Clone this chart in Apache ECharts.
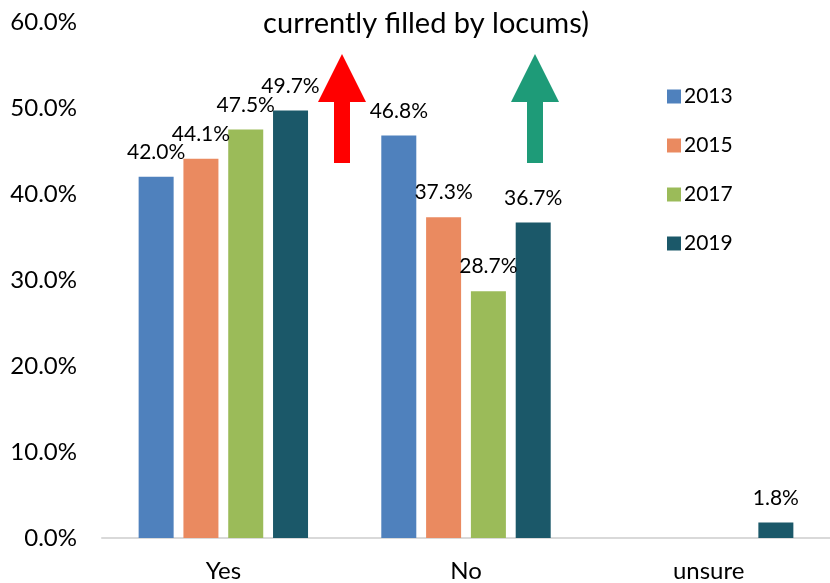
<!DOCTYPE html>
<html>
<head>
<meta charset="utf-8">
<script src="https://cdn.jsdelivr.net/npm/echarts@6/dist/echarts.min.js"></script>
<style>
  html, body { margin: 0; padding: 0; background: #fff; }
  #chart { width: 830px; height: 583px; }
</style>
</head>
<body>
<div id="chart"></div>
<script>
// answers to the question, one bar per survey year
var categories = ['Yes', 'No', 'unsure'];
var years = ['2013', '2015', '2017', '2019'];
var colors = ['#4F81BD', '#EA8A60', '#9BBB59', '#1B5869'];
var values2013 = [42.0, 46.8, null];
var values2015 = [44.1, 37.3, null];
var values2017 = [47.5, 28.7, null];
var values2019 = [49.7, 36.7, 1.8];
var yTicks = [0, 10, 20, 30, 40, 50, 60];

var font = 'Lato, "Open Sans", sans-serif';
var allValues = [values2013, values2015, values2017, values2019];

var chart = echarts.init(document.getElementById('chart'), null, { renderer: 'canvas' });

var series = years.map(function (y, i) {
  return {
    name: y,
    type: 'bar',
    data: allValues[i],
    barWidth: 35,
    barGap: '28%',
    itemStyle: { color: colors[i] },
    label: {
      show: true,
      position: 'top',
      distance: 14,
      fontFamily: font,
      fontSize: 21,
      color: '#000',
      formatter: function (p) { return p.value.toFixed(1) + '%'; }
    }
  };
});

// arrow shapes (annotations, not data)
function arrow(cx, color) {
  return {
    type: 'polygon',
    shape: {
      points: [
        [cx, 54], [cx + 24, 102], [cx + 8, 102], [cx + 8, 163],
        [cx - 8, 163], [cx - 8, 102], [cx - 24, 102]
      ]
    },
    style: { fill: color }
  };
}

var options = {
  animation: false,
  title: {
    text: 'currently filled by locums)',
    left: 421,
    textAlign: 'center',
    top: 4,
    textStyle: { fontFamily: font, fontSize: 29, fontWeight: 'normal', color: '#000' }
  },
  legend: {
    orient: 'vertical',
    left: 662,
    top: 81,
    itemWidth: 14,
    itemHeight: 14,
    itemGap: 28,
    icon: 'rect',
    data: years,
    textStyle: { fontFamily: font, fontSize: 21, color: '#000', padding: [0, 0, 0, -2] }
  },
  grid: { left: 102, right: -5, top: 22, bottom: 43, containLabel: false },
  xAxis: {
    type: 'category',
    data: categories,
    axisLine: { lineStyle: { color: '#D9D9D9', width: 2 } },
    axisTick: { show: false },
    axisLabel: { fontFamily: font, fontSize: 24, color: '#000', margin: 21 }
  },
  yAxis: {
    type: 'value',
    min: yTicks[0],
    max: yTicks[yTicks.length - 1],
    interval: 10,
    splitLine: { show: false },
    axisLine: { show: false },
    axisTick: { show: false },
    axisLabel: {
      fontFamily: font, fontSize: 24, color: '#000', margin: 25,
      formatter: function (v) { return v.toFixed(1) + '%'; }
    }
  },
  graphic: [arrow(342, '#FF0000'), arrow(535, '#1E9B78')],
  series: series
};

chart.setOption(options);
</script>
</body>
</html>
